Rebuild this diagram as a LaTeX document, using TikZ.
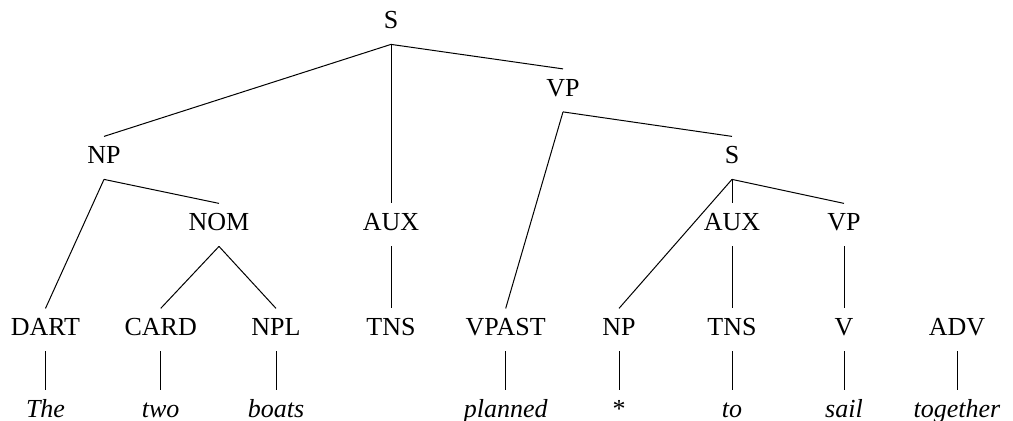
\documentclass[tikz,border=0pt]{standalone}
\usepackage{fontspec}
\setmainfont{Liberation Serif}
\begin{document}
\begin{tikzpicture}[x=0.5pt,y=-0.5pt,
  cat/.style={anchor=base,inner xsep=0pt,inner ysep=5pt,
    text height=8.6pt,text depth=2.5pt,font=\fontsize{13}{15.6}\selectfont},
  word/.style={cat,font=\fontsize{13}{15.6}\selectfont\itshape},
  edge/.style={draw=black,line width=0.5pt}]
\useasboundingbox (0,0) rectangle (1013,421);
% phrase structure
\node[cat] (s)     at (391,29)    {S};
\node[cat] (np)    at (104,164)   {NP};
\node[cat] (vp)    at (563,96.5)  {VP};
\node[cat] (nom)   at (219,231)   {NOM};
\node[cat] (aux)   at (391,231)   {AUX};
\node[cat] (s2)    at (732,164)   {S};
\node[cat] (aux2)  at (732,231)   {AUX};
\node[cat] (vp2)   at (844,231)   {VP};
% pre-terminals
\node[cat] (dart)  at (45.5,336)  {DART};
\node[cat] (card)  at (160.7,336) {CARD};
\node[cat] (npl)   at (276,336)   {NPL};
\node[cat] (tns)   at (391,336)   {TNS};
\node[cat] (vpast) at (505.7,336) {VPAST};
\node[cat] (np2)   at (619,336)   {NP};
\node[cat] (tns2)  at (732,336)   {TNS};
\node[cat] (v)     at (844,336)   {V};
\node[cat] (adv)   at (957,336)   {ADV};
% words
\node[word] (w1) at (45.5,418)  {The};
\node[word] (w2) at (160.7,418) {two};
\node[word] (w3) at (276,418)   {boats};
\node[word] (w4) at (505.7,418) {planned};
\node[cat]  (w5) at (619,418)   {*};
\node[word] (w6) at (732,418)   {to};
\node[word] (w7) at (844,418)   {sail};
\node[word] (w8) at (957,418)   {together};
% branches
\foreach \a/\b in {s/np,s/aux,s/vp,np/dart,np/nom,nom/card,nom/npl,aux/tns,
  vp/vpast,vp/s2,s2/np2,s2/aux2,s2/vp2,aux2/tns2,vp2/v,
  dart/w1,card/w2,npl/w3,vpast/w4,np2/w5,tns2/w6,v/w7,adv/w8}
  \draw[edge] (\a.south) -- (\b.north);
\end{tikzpicture}
\end{document}
